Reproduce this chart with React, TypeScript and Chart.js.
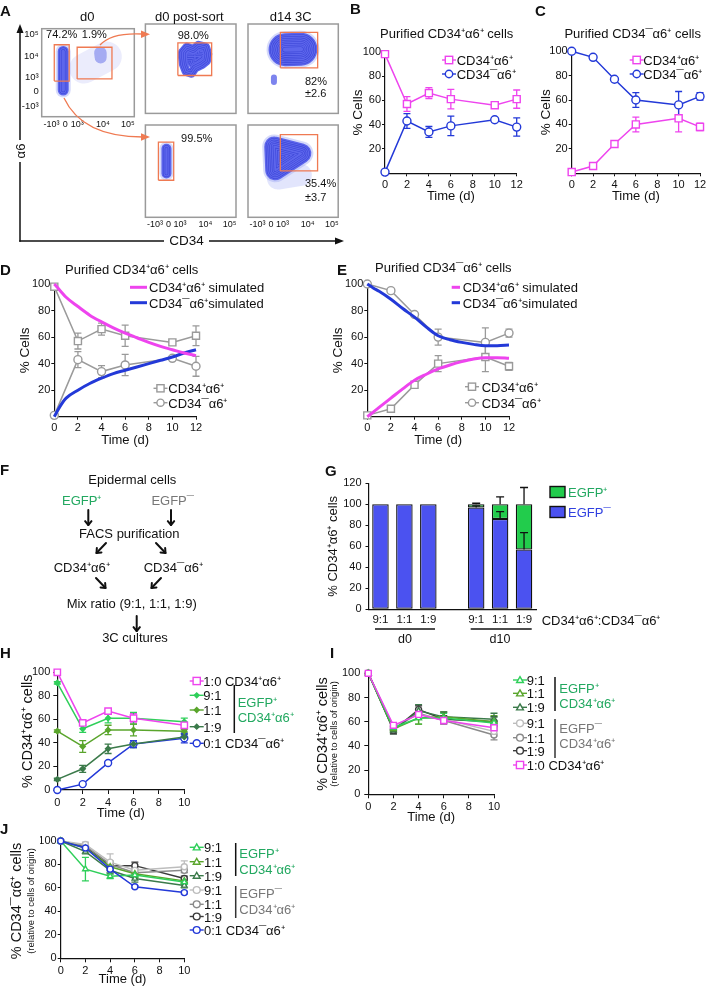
import React, { useEffect, useRef } from 'react';
import { Chart, registerables } from 'chart.js';

Chart.register(...registerables);

const FONT = '"Liberation Sans", Arial, Helvetica, sans-serif';
Chart.defaults.font.family = FONT;
Chart.defaults.color = '#111';

// ---------------- colours ----------------
const MAG = '#ee44ee';
const BLUE = '#2339d8';
const GRAY = '#9a9a9a';
const G_BRIGHT = '#2fcf5a';
const G_MID = '#5aa52c';
const G_DARK = '#3b7a4a';
const GR_L = '#bdbdbd';
const GR_M = '#8a8a8a';
const GR_D = '#3a3a3a';
const ORANGE = '#ef7a52';
const FLOW_BODY = '#5d66ec';
const FLOW_RING = '#3a44d6';
const BAR_BLUE = '#4b52f0';
const BAR_GREEN = '#22cc4c';
const TXT_GREEN = '#22a860';

// ---------------- data: B / D (purified CD34+ a6+) ----------------
const daysBC = [0, 2, 4, 6, 10, 12];
const bPlus = [98, 57, 66, 61, 56, 61];
const bPlusErr = [0, 6, 4.5, 8, 1.5, 7.5];
const bMinus = [1, 43, 34, 39, 44, 38];
const bMinusErr = [0, 6, 4.5, 8, 1.5, 7.5];

// ---------------- data: C / E (purified CD34- a6+) ----------------
const cPlus = [1, 6, 24, 40, 45, 38];
const cPlusErr = [0, 0, 1, 6, 11, 3];
const cMinus = [100, 95, 77, 60, 56, 63];
const cMinusErr = [0, 0, 1, 6, 11, 3];

// ---------------- simulated curves ----------------
const simDays = [0, 0.5, 1, 2, 3, 4, 5, 6, 7, 8, 9, 10, 11, 12];
const dSimPlus = [100, 95, 90, 83, 76.5, 71.5, 67, 63, 59.5, 56, 53, 50.5, 48, 46];
const dSimMinus = [0, 8, 14, 20, 25, 29, 32.5, 35, 37.5, 40, 42.5, 45, 48, 50.5];
const eSimMinus = [100, 97, 94.5, 88.5, 81.5, 75, 67.5, 61, 58, 56, 54.5, 53.5, 53.5, 54];
const eSimPlus = [0, 3.5, 7, 14, 21, 27.5, 32, 36, 39, 41.5, 43.5, 44.5, 44.5, 44];

// ---------------- data: G ----------------
const gCats = ['9:1', '1:1', '1:9', '', '9:1', '1:1', '1:9'];
const gMinus = [100, 100, 100, null, 97, 86, 57];
const gPlus = [null, null, null, null, 3, 14, 43];
const gMinusErr = [0, 0, 0, 0, 1.5, 7, 16];
const gPlusErr = [0, 0, 0, 0, 1, 7, 16];

// ---------------- data: H ----------------
const daysHIJ = [0, 2, 4, 6, 10];
const h10 = [100, 57, 67, 61, 55];
const h10Err = [1, 1.5, 1.5, 4, 2];
const h91 = [91, 52, 61, 61, 58];
const h91Err = [1, 3, 4, 5, 3];
const h11 = [50, 37, 51, 51, 50];
const h11Err = [1, 5, 4, 5, 1.5];
const h19 = [9, 18, 35, 39, 45];
const h19Err = [1, 3, 4, 3, 2];
const h01 = [0, 5, 23, 39, 44];
const h01Err = [0, 0.5, 0.5, 3, 4];

// ---------------- data: I ----------------
const i91p = [100, 55, 63, 63, 59];
const i11p = [100, 54, 63, 64, 60];
const i19p = [100, 53, 69, 64, 62];
const i91m = [100, 56, 66, 62, 52];
const i11m = [100, 54, 67, 61, 49];
const i19m = [100, 53, 70, 62, 60];
const i10 = [100, 57, 66, 61, 55];
const i10Err = [0, 2, 2, 3, 2];
const iErrP = [0, 3, 5, 4, 5];
const iErrM = [0, 3, 3, 3, 4];

// ---------------- data: J ----------------
const j91p = [100, 76, 70, 71, 65];
const j11p = [100, 94, 78, 72, 66];
const j19p = [100, 91, 75, 68, 62];
const j91m = [100, 97, 82, 75, 78];
const j11m = [100, 96, 80, 73, 75];
const j19m = [100, 95, 79, 79, 68];
const j01 = [100, 94, 76, 61, 56];
const j01Err = [0, 1, 1, 1, 1];
const j91pErr = [0, 10, 2, 2, 2];
const jErr = [0, 2, 3, 3, 2];
const j91mErr = [0, 2, 7, 3, 5];

// ---------------- flow cytometry (channel scale 0-1024) ----------------
const flowTickLabels = ['-10³', '0', '10³', '10⁴', '10⁵'];
const flowXTicks = [108, 260, 392, 678, 953];
const flowYTicks = [118, 294, 459, 698, 955];
const d0Main = [[238, 310], [238, 760]];
const d0Right = [[646, 745], [652, 690]];
const d0RightHaze = [[470, 560], [720, 700]];
const psTopPop = [[420, 700], [470, 760], [540, 730], [600, 780], [680, 760], [705, 680], [690, 600], [640, 560], [560, 520], [520, 460], [460, 480], [430, 560], [420, 640], [420, 700]];
const psTopCore = [[480, 650], [630, 650], [560, 600], [560, 700]];
const d14TopPop = [[420, 730], [600, 735]];
const d14TopSmall = [[294, 360], [294, 410]];
const psBotPop = [[238, 485], [238, 760]];
const d14BotPop = [[298, 786], [606, 709], [309, 521], [298, 786]];
const d14BotHaze = [[340, 430], [600, 470]];
const d0GateA = [139, 304, 415, 837];
const d0GateB = [392, 777, 440, 808];
const psTopGate = [367, 749, 434, 808];
const d14TopGate = [367, 790, 522, 929];
const psBotGate = [147, 320, 411, 833];
const d14BotGate = [367, 790, 514, 918];

// ---------------- plugins ----------------
function drawErr(chart: any, after: boolean) {
  const ctx = chart.ctx;
  chart.data.datasets.forEach((ds: any, i: number) => {
    if (!ds.errors || !!ds.errAfter !== after) return;
    const meta = chart.getDatasetMeta(i);
    const ys = chart.scales[meta.yAxisID];
    const p0 = ys.getPixelForValue(0);
    ctx.save();
    ctx.strokeStyle = ds.errColor || ds.borderColor;
    ctx.lineWidth = ds.errWidth || 1.3;
    meta.data.forEach((el: any, j: number) => {
      const e = ds.errors[j];
      if (!e || el.skip || el.y == null || isNaN(el.y)) return;
      const d = Math.abs(p0 - ys.getPixelForValue(e));
      const x = el.x;
      const y = el.y;
      const top = y - d;
      const bot = ds.errMode === 'up' ? y : y + d;
      const c = (ds.errCap || 7) / 2;
      ctx.beginPath();
      ctx.moveTo(x, top);
      ctx.lineTo(x, bot);
      ctx.moveTo(x - c, top);
      ctx.lineTo(x + c, top);
      if (ds.errMode !== 'up') {
        ctx.moveTo(x - c, bot);
        ctx.lineTo(x + c, bot);
      }
      ctx.stroke();
    });
    ctx.restore();
  });
}
const errorBars = {
  id: 'errorBars',
  beforeDatasetsDraw(chart: any) { drawErr(chart, false); },
  afterDatasetsDraw(chart: any) { drawErr(chart, true); },
};
const boxBorder = {
  id: 'boxBorder',
  afterDatasetsDraw(chart: any, _a: any, opts: any) {
    if (!opts || !opts.color) return;
    const { left, top, right, bottom } = chart.chartArea;
    const ctx = chart.ctx;
    ctx.save();
    ctx.strokeStyle = opts.color;
    ctx.lineWidth = opts.width || 1.5;
    ctx.strokeRect(left, top, right - left, bottom - top);
    ctx.restore();
  },
};
Chart.register(errorBars, boxBorder);

// ---------------- helpers ----------------
type Rect = { L: number; T: number; W: number; H: number };
type Area = { x0: number; x1: number; y0: number; y1: number };

function CanvasChart({ rect, make }: { rect: Rect; make: () => any }) {
  const ref = useRef<HTMLCanvasElement>(null);
  useEffect(() => {
    const ch = new Chart(ref.current as HTMLCanvasElement, make());
    return () => ch.destroy();
  }, []);
  return (
    <canvas
      ref={ref}
      width={rect.W}
      height={rect.H}
      style={{ position: 'absolute', left: rect.L, top: rect.T, width: rect.W, height: rect.H, display: 'block' }}
    />
  );
}

function ser(days: number[], vals: number[], o: any) {
  return {
    data: days.map((d, i) => ({ x: d, y: vals[i] })),
    borderColor: o.color,
    borderWidth: o.w ?? 1.5,
    pointStyle: o.marker || 'circle',
    pointRadius: o.r ?? 3.5,
    pointBorderWidth: o.pbw ?? 1.4,
    pointBorderColor: o.color,
    pointBackgroundColor: o.fill ?? '#fff',
    tension: o.smooth ? 0.4 : 0,
    cubicInterpolationMode: o.smooth ? 'monotone' : 'default',
    clip: false,
    fill: false,
    errors: o.err,
    errColor: o.color,
    errCap: o.cap ?? 7,
    order: o.order ?? 0,
  };
}

function baseOpts(rect: Rect, a: Area) {
  return {
    responsive: false,
    animation: false,
    devicePixelRatio: 1,
    events: [],
    layout: { padding: { left: 0, top: a.y0 - rect.T, right: rect.L + rect.W - a.x1, bottom: 0 } },
    plugins: { legend: { display: false }, tooltip: { enabled: false } },
  };
}

function yAxis(rect: Rect, a: Area, o: any) {
  const lh = (o.titleSize || 13) * 1.2;
  return {
    type: 'linear',
    min: 0,
    max: o.max,
    stacked: !!o.stacked,
    afterFit: (s: any) => { s.width = a.x0 - rect.L; },
    ticks: {
      stepSize: o.step,
      font: { size: o.tick || 11 },
      color: '#111',
      padding: o.pad ?? 1,
      callback: (v: any) => (o.hideZero && v === 0 ? '' : String(v)),
    },
    grid: { display: true, drawOnChartArea: false, drawTicks: true, tickLength: o.tl ?? 3, tickColor: '#111', tickWidth: 1 },
    border: { display: true, color: '#111', width: 1.2 },
    title: o.title
      ? { display: true, text: o.title, font: { size: o.titleSize || 13 }, color: '#111', padding: { top: o.titleX - rect.L - lh / 2, bottom: 0 } }
      : { display: false },
  };
}

function xLinear(rect: Rect, a: Area, o: any) {
  const lh = 13 * 1.2;
  return {
    type: 'linear',
    min: 0,
    max: o.max,
    afterFit: (s: any) => { s.height = rect.T + rect.H - a.y1; },
    ticks: { stepSize: 2, font: { size: o.tick || 11 }, color: '#111', padding: o.pad ?? 2, maxRotation: 0, autoSkip: false },
    grid: { display: true, drawOnChartArea: false, drawTicks: true, tickLength: o.tl ?? 3, tickColor: '#111', tickWidth: 1 },
    border: { display: true, color: '#111', width: 1.2 },
    title: { display: true, text: 'Time (d)', font: { size: 13 }, color: '#111', padding: { top: 0, bottom: rect.T + rect.H - o.titleY - lh / 2 } },
  };
}

function lineCfg(rect: Rect, a: Area, datasets: any[], xo: any, yo: any) {
  return {
    type: 'line',
    data: { datasets },
    options: {
      ...baseOpts(rect, a),
      scales: { x: xLinear(rect, a, xo), y: yAxis(rect, a, yo) },
    },
  };
}

function contour(pts: number[][], w: number, halo = true) {
  const L: any[] = [];
  if (halo) L.push({ pts, w: w + 4, color: 'rgba(165,172,245,0.45)' });
  L.push({ pts, w, color: FLOW_BODY });
  for (let k = w - 3; k > 2; k -= 3.5) {
    L.push({ pts, w: k, color: FLOW_RING });
    L.push({ pts, w: k - 1.1, color: FLOW_BODY });
  }
  return L;
}

function flowCfg(rect: Rect, box: Area, layers: any[], gates: number[][], showX: boolean, showY: boolean) {
  const datasets: any[] = [];
  gates.forEach((g) =>
    datasets.push({
      data: [[g[0], g[2]], [g[1], g[2]], [g[1], g[3]], [g[0], g[3]], [g[0], g[2]]].map(([x, y]) => ({ x, y })),
      borderColor: ORANGE,
      borderWidth: 1.3,
      pointRadius: 0,
      fill: false,
      order: 0,
      borderJoinStyle: 'miter',
      clip: false,
    })
  );
  layers.forEach((l, i) =>
    datasets.push({
      data: l.pts.map(([x, y]: number[]) => ({ x, y })),
      borderColor: l.color,
      borderWidth: l.w,
      borderCapStyle: 'round',
      borderJoinStyle: 'round',
      pointRadius: 0,
      fill: false,
      order: 1000 - i,
      clip: 0,
      tension: 0,
    })
  );
  return {
    type: 'line',
    data: { datasets },
    options: {
      responsive: false,
      animation: false,
      devicePixelRatio: 1,
      events: [],
      layout: {
        padding: {
          left: showY ? 0 : box.x0 - rect.L,
          top: box.y0 - rect.T,
          right: rect.L + rect.W - box.x1,
          bottom: showX ? 0 : rect.T + rect.H - box.y1,
        },
      },
      plugins: { legend: { display: false }, tooltip: { enabled: false }, boxBorder: { color: '#9a9a9a', width: 1.5 } },
      scales: {
        x: {
          type: 'linear', min: 0, max: 1024, display: showX,
          afterFit: (s: any) => { s.height = rect.T + rect.H - box.y1; },
          afterBuildTicks: (s: any) => { s.ticks = flowXTicks.map((v) => ({ value: v })); },
          ticks: { callback: (_v: any, i: number) => flowTickLabels[i], font: { size: 9 }, color: '#111', padding: 2, maxRotation: 0, autoSkip: false },
          grid: { display: false, drawTicks: false },
          border: { display: false },
        },
        y: {
          type: 'linear', min: 0, max: 1024, display: showY,
          afterFit: (s: any) => { s.width = box.x0 - rect.L; },
          afterBuildTicks: (s: any) => { s.ticks = flowYTicks.map((v) => ({ value: v })); },
          ticks: { callback: (_v: any, i: number) => flowTickLabels[i], font: { size: 9.5 }, color: '#111', padding: 3, autoSkip: false },
          grid: { display: false, drawTicks: false },
          border: { display: false },
        },
      },
    },
  };
}

// ---------------- chart definitions ----------------
const charts: { rect: Rect; make: () => any }[] = [];

// Panel A flow plots
{
  const r = { L: 10, T: 20, W: 128, H: 112 };
  const b = { x0: 41.7, x1: 134.3, y0: 24, y1: 116.7 };
  const layers = [
    { pts: d0RightHaze, w: 30, color: 'rgba(175,180,245,0.25)' },
    { pts: d0Right, w: 12, color: '#a5abf2' },
    ...contour(d0Main, 11),
  ];
  charts.push({ rect: r, make: () => flowCfg(r, b, layers, [d0GateA, d0GateB], true, true) });
}
{
  const r = { L: 140, T: 21, W: 99, H: 99 };
  const b = { x0: 142.7, x1: 236, y0: 24, y1: 116.7 };
  const layers = [...contour(psTopCore, 16, false), ...contour(psTopPop, 9, false)];
  charts.push({ rect: r, make: () => flowCfg(r, b, layers, [psTopGate], false, false) });
}
{
  const r = { L: 242, T: 21, W: 99, H: 99 };
  const b = { x0: 245, x1: 338.3, y0: 24, y1: 116.7 };
  const layers = [{ pts: d14TopSmall, w: 6, color: '#7d84ee' }, ...contour(d14TopPop, 33)];
  charts.push({ rect: r, make: () => flowCfg(r, b, layers, [d14TopGate], false, false) });
}
{
  const r = { L: 140, T: 122, W: 99, H: 112 };
  const b = { x0: 142.7, x1: 236, y0: 125, y1: 217.3 };
  const layers = [...contour(psBotPop, 10)];
  charts.push({ rect: r, make: () => flowCfg(r, b, layers, [psBotGate], true, false) });
}
{
  const r = { L: 242, T: 122, W: 99, H: 112 };
  const b = { x0: 245, x1: 338.3, y0: 125, y1: 217.3 };
  const layers = [{ pts: d14BotHaze, w: 22, color: 'rgba(160,168,245,0.3)' }, ...contour(d14BotPop, 20)];
  charts.push({ rect: r, make: () => flowCfg(r, b, layers, [d14BotGate], true, false) });
}

// Panel B
{
  const r = { L: 350, T: 40, W: 178, H: 165 };
  const a = { x0: 385, x1: 516.7, y0: 51.7, y1: 173.3 };
  charts.push({
    rect: r,
    make: () =>
      lineCfg(r, a, [
        ser(daysBC, bPlus, { color: MAG, marker: 'rect', r: 5, err: bPlusErr }),
        ser(daysBC, bMinus, { color: BLUE, marker: 'circle', r: 4, err: bMinusErr }),
      ], { max: 12, titleY: 196.7 }, { max: 100, step: 20, hideZero: true, title: '% Cells', titleX: 358.3, titleSize: 13.5 }),
  });
}
// Panel C
{
  const r = { L: 537, T: 40, W: 172, H: 165 };
  const a = { x0: 571.7, x1: 700, y0: 51.2, y1: 173.3 };
  charts.push({
    rect: r,
    make: () =>
      lineCfg(r, a, [
        ser(daysBC, cPlus, { color: MAG, marker: 'rect', r: 5, err: cPlusErr }),
        ser(daysBC, cMinus, { color: BLUE, marker: 'circle', r: 4, err: cMinusErr }),
      ], { max: 12, titleY: 196.7 }, { max: 100, step: 20, hideZero: true, title: '% Cells', titleX: 546.7, titleSize: 13.5 }),
  });
}
// Panel D
{
  const r = { L: 12, T: 275, W: 198, H: 175 };
  const a = { x0: 54.3, x1: 196, y0: 284, y1: 416.7 };
  charts.push({
    rect: r,
    make: () =>
      lineCfg(r, a, [
        ser(simDays, dSimPlus, { color: MAG, r: 0, w: 3, smooth: true }),
        ser(simDays, dSimMinus, { color: BLUE, r: 0, w: 3, smooth: true }),
        ser(daysBC, bPlus, { color: GRAY, marker: 'rect', r: 5, err: bPlusErr }),
        ser(daysBC, bMinus, { color: GRAY, marker: 'circle', r: 4, err: bMinusErr }),
      ], { max: 12, titleY: 440.7 }, { max: 100, step: 20, hideZero: true, title: '% Cells', titleX: 25, titleSize: 13.5 }),
  });
}
// Panel E
{
  const r = { L: 326, T: 275, W: 198, H: 175 };
  const a = { x0: 367.3, x1: 509, y0: 284, y1: 416.7 };
  charts.push({
    rect: r,
    make: () =>
      lineCfg(r, a, [
        ser(simDays, eSimPlus, { color: MAG, r: 0, w: 3, smooth: true }),
        ser(simDays, eSimMinus, { color: BLUE, r: 0, w: 3, smooth: true }),
        ser(daysBC, cPlus, { color: GRAY, marker: 'rect', r: 5, err: cPlusErr }),
        ser(daysBC, cMinus, { color: GRAY, marker: 'circle', r: 4, err: cMinusErr }),
      ], { max: 12, titleY: 440.7 }, { max: 100, step: 20, hideZero: true, title: '% Cells', titleX: 338.3, titleSize: 13.5 }),
  });
}
// Panel G
{
  const r = { L: 322, T: 472, W: 226, H: 160 };
  const a = { x0: 368.5, x1: 536, y0: 483.3, y1: 609.3 };
  charts.push({
    rect: r,
    make: () => ({
      type: 'bar',
      data: {
        labels: gCats,
        datasets: [
          { data: gMinus, backgroundColor: BAR_BLUE, borderColor: '#111', borderWidth: 1.3, borderSkipped: false, errors: gMinusErr, errMode: 'up', errColor: '#111', errCap: 8, errAfter: true },
          { data: gPlus, backgroundColor: BAR_GREEN, borderColor: '#111', borderWidth: 1.3, borderSkipped: false, errors: gPlusErr, errMode: 'up', errColor: '#111', errCap: 8, errAfter: true },
        ],
      },
      options: {
        ...baseOpts(r, a),
        datasets: { bar: { categoryPercentage: 1, barPercentage: 0.69 } },
        scales: {
          x: {
            stacked: true,
            afterFit: (s: any) => { s.height = r.T + r.H - a.y1; },
            ticks: { font: { size: 11.5 }, color: '#111', padding: 4, maxRotation: 0, autoSkip: false },
            grid: { display: false, drawTicks: false },
            border: { display: true, color: '#111', width: 1.2 },
          },
          y: yAxis(r, a, { max: 120, step: 20, stacked: true, pad: 4, title: '% CD34⁺α6⁺ cells', titleX: 333, titleSize: 13 }),
        },
      },
    }),
  });
}
// Panel H
{
  const r = { L: 15, T: 660, W: 182, H: 165 };
  const a = { x0: 57.3, x1: 184.3, y0: 672.3, y1: 790 };
  charts.push({
    rect: r,
    make: () =>
      lineCfg(r, a, [
        ser(daysHIJ, h10, { color: MAG, marker: 'rect', r: 4.5, err: h10Err }),
        ser(daysHIJ, h91, { color: G_BRIGHT, marker: 'rectRot', r: 2.6, fill: G_BRIGHT, err: h91Err }),
        ser(daysHIJ, h11, { color: G_MID, marker: 'rectRot', r: 2.6, fill: G_MID, err: h11Err }),
        ser(daysHIJ, h19, { color: G_DARK, marker: 'rectRot', r: 2.6, fill: G_DARK, err: h19Err }),
        ser(daysHIJ, h01, { color: BLUE, marker: 'circle', r: 3.5, err: h01Err }),
      ], { max: 10, titleY: 813.3, tl: 4, pad: 2 }, { max: 100, step: 20, tl: 4, pad: 3, title: '% CD34⁺α6⁺ cells', titleX: 28.3, titleSize: 14.5 }),
  });
}
// Panel I
{
  const r = { L: 340, T: 660, W: 165, H: 170 };
  const a = { x0: 368.3, x1: 494, y0: 673.3, y1: 794.3 };
  charts.push({
    rect: r,
    make: () =>
      lineCfg(r, a, [
        ser(daysHIJ, i10, { color: MAG, marker: 'rect', r: 4.2, err: i10Err }),
        ser(daysHIJ, i91p, { color: G_BRIGHT, marker: 'triangle', r: 3.2, err: iErrP }),
        ser(daysHIJ, i11p, { color: G_MID, marker: 'triangle', r: 3.2, err: iErrP }),
        ser(daysHIJ, i19p, { color: G_DARK, marker: 'triangle', r: 3.2, err: iErrP }),
        ser(daysHIJ, i91m, { color: GR_L, marker: 'circle', r: 3, err: iErrM }),
        ser(daysHIJ, i11m, { color: GR_M, marker: 'circle', r: 3, err: iErrM }),
        ser(daysHIJ, i19m, { color: GR_D, marker: 'circle', r: 3, err: iErrM }),
      ], { max: 10, titleY: 817.5, tl: 4, pad: 2 }, { max: 100, step: 20, tl: 4, pad: 4 }),
  });
}
// Panel J
{
  const r = { L: 40, T: 830, W: 155, H: 158 };
  const a = { x0: 60.7, x1: 184.3, y0: 841, y1: 958.3 };
  charts.push({
    rect: r,
    make: () =>
      lineCfg(r, a, [
        ser(daysHIJ, j01, { color: BLUE, marker: 'circle', r: 3, err: j01Err }),
        ser(daysHIJ, j91p, { color: G_BRIGHT, marker: 'triangle', r: 3.2, err: j91pErr }),
        ser(daysHIJ, j11p, { color: G_MID, marker: 'triangle', r: 3.2, err: jErr }),
        ser(daysHIJ, j19p, { color: G_DARK, marker: 'triangle', r: 3.2, err: jErr }),
        ser(daysHIJ, j91m, { color: GR_L, marker: 'circle', r: 3, err: j91mErr }),
        ser(daysHIJ, j11m, { color: GR_M, marker: 'circle', r: 3, err: jErr }),
        ser(daysHIJ, j19m, { color: GR_D, marker: 'circle', r: 3, err: jErr }),
      ], { max: 10, titleY: 979.3, tl: 4, pad: 2 }, { max: 100, step: 20, tl: 3, pad: 1 }),
  });
}

// ---------------- HTML text ----------------
function Tx({ x, y, s = 13, c = '#111', a = 'c', b = false, r = false, children }: any) {
  const tx = a === 'c' ? '-50%' : a === 'r' ? '-100%' : '0';
  return (
    <div
      style={{
        position: 'absolute', left: x, top: y, fontSize: s, color: c, fontWeight: b ? 700 : 400,
        whiteSpace: 'nowrap', lineHeight: 1, transform: `translate(${tx}, -50%)${r ? ' rotate(-90deg)' : ''}`,
      }}
    >
      {children}
    </div>
  );
}

function Mark({ x, y, color, shape, half = 7, r = 3.5, fill = '#fff', lw = 1.4 }: any) {
  const els: any[] = [];
  if (half > 0) els.push(<line key="l" x1={x - half} y1={y} x2={x + half} y2={y} stroke={color} strokeWidth={lw} />);
  if (shape === 'rect') els.push(<rect key="m" x={x - r} y={y - r} width={2 * r} height={2 * r} fill={fill} stroke={color} strokeWidth={lw} />);
  if (shape === 'circle') els.push(<circle key="m" cx={x} cy={y} r={r} fill={fill} stroke={color} strokeWidth={lw} />);
  if (shape === 'tri') els.push(<polygon key="m" points={`${x},${y - r} ${x + r},${y + r * 0.75} ${x - r},${y + r * 0.75}`} fill={fill} stroke={color} strokeWidth={lw} />);
  if (shape === 'dia') els.push(<polygon key="m" points={`${x},${y - r} ${x + r},${y} ${x},${y + r} ${x - r},${y}`} fill={color} stroke={color} strokeWidth={lw} />);
  return <g>{els}</g>;
}

function Arrow({ x1, y1, x2, y2, c = '#111', w = 2, h = 5 }: any) {
  const ang = Math.atan2(y2 - y1, x2 - x1);
  const a1 = ang + Math.PI * 0.78;
  const a2 = ang - Math.PI * 0.78;
  return (
    <g stroke={c} strokeWidth={w} fill="none" strokeLinecap="round" strokeLinejoin="round">
      <line x1={x1} y1={y1} x2={x2} y2={y2} />
      <polyline points={`${x2 + h * Math.cos(a1)},${y2 + h * Math.sin(a1)} ${x2},${y2} ${x2 + h * Math.cos(a2)},${y2 + h * Math.sin(a2)}`} />
    </g>
  );
}

const P = 'CD34⁺α6⁺';
const M = 'CD34¯α6⁺';

export default function App() {
  return (
    <div style={{ position: 'absolute', left: 0, top: 0, width: 709, height: 988, background: '#fff', fontFamily: FONT, color: '#111', overflow: 'hidden' }}>
      {charts.map((c, i) => (
        <CanvasChart key={i} rect={c.rect} make={c.make} />
      ))}

      <svg width={709} height={988} style={{ position: 'absolute', left: 0, top: 0, pointerEvents: 'none' }}>
        {/* Panel A axes */}
        <g stroke="#111" strokeWidth={1.5}>
          <line x1={20} y1={31} x2={20} y2={140} />
          <line x1={20} y1={162} x2={20} y2={241.7} />
          <line x1={19.3} y1={241} x2={164} y2={241} />
          <line x1={209} y1={241} x2={336} y2={241} />
        </g>
        <polygon points="20,24 16.5,33 23.5,33" fill="#111" />
        <polygon points="344,241 335,237.5 335,244.5" fill="#111" />
        {/* Orange sort arrows */}
        <path d="M100,45 C108,36 125,33 143,34" stroke={ORANGE} strokeWidth={1.3} fill="none" />
        <polygon points="150,34.3 141,30.5 141,38" fill={ORANGE} />
        <path d="M64,98 C78,128 110,137 143,137" stroke={ORANGE} strokeWidth={1.3} fill="none" />
        <polygon points="150,137 141,133.3 141,140.7" fill={ORANGE} />

        {/* Legend markers B, C */}
        <Mark x={449} y={60} color={MAG} shape="rect" r={3.7} />
        <Mark x={449} y={74} color={BLUE} shape="circle" r={3.7} />
        <Mark x={636.7} y={60} color={MAG} shape="rect" r={3.7} />
        <Mark x={636.7} y={74} color={BLUE} shape="circle" r={3.7} />
        {/* D, E legends */}
        <line x1={130} y1={287.3} x2={147} y2={287.3} stroke={MAG} strokeWidth={3} />
        <line x1={130} y1={302.7} x2={147} y2={302.7} stroke={BLUE} strokeWidth={3} />
        <Mark x={160.5} y={388.3} color={GRAY} shape="rect" r={3.6} />
        <Mark x={160.5} y={402.7} color={GRAY} shape="circle" r={3.6} />
        <line x1={451.7} y1={287.3} x2={460} y2={287.3} stroke={MAG} strokeWidth={3} />
        <line x1={451.7} y1={302.7} x2={460} y2={302.7} stroke={BLUE} strokeWidth={3} />
        <Mark x={472} y={386.7} color={GRAY} shape="rect" r={3.6} />
        <Mark x={472} y={402.7} color={GRAY} shape="circle" r={3.6} />

        {/* F arrows */}
        <Arrow x1={88.3} y1={510} x2={88.3} y2={525} />
        <Arrow x1={171} y1={510} x2={171} y2={525} />
        <Arrow x1={106} y1={543} x2={96.5} y2={553} />
        <Arrow x1={156} y1={543} x2={165.5} y2={553} />
        <Arrow x1={96} y1={578} x2={105.5} y2={588} />
        <Arrow x1={161} y1={578} x2={151.5} y2={588} />
        <Arrow x1={136.7} y1={616} x2={136.7} y2={631} />

        {/* G legend boxes and group lines */}
        <rect x={550} y={486.5} width={15} height={11} fill={BAR_GREEN} stroke="#111" strokeWidth={1.4} />
        <rect x={550} y={506.5} width={15} height={11} fill={BAR_BLUE} stroke="#111" strokeWidth={1.4} />
        <line x1={375} y1={629} x2={435} y2={629} stroke="#111" strokeWidth={1.5} />
        <line x1={470.7} y1={629} x2={531.7} y2={629} stroke="#111" strokeWidth={1.5} />

        {/* H legend */}
        <Mark x={196.7} y={681} color={MAG} shape="rect" r={3.6} />
        <Mark x={196.7} y={695.3} color={G_BRIGHT} shape="dia" r={2.4} />
        <Mark x={196.7} y={710} color={G_MID} shape="dia" r={2.4} />
        <Mark x={196.7} y={726.7} color={G_DARK} shape="dia" r={2.4} />
        <Mark x={196.7} y={743.3} color={BLUE} shape="circle" r={3.5} />
        <line x1={234.3} y1={685} x2={234.3} y2={733} stroke="#111" strokeWidth={1.5} />

        {/* I legend */}
        <Mark x={520} y={680} color={G_BRIGHT} shape="tri" r={3.4} />
        <Mark x={520} y={693.3} color={G_MID} shape="tri" r={3.4} />
        <Mark x={520} y={707.3} color={G_DARK} shape="tri" r={3.4} />
        <Mark x={520} y={723.3} color={GR_L} shape="circle" r={3.4} />
        <Mark x={520} y={737.7} color={GR_M} shape="circle" r={3.4} />
        <Mark x={520} y={750.7} color={GR_D} shape="circle" r={3.4} />
        <Mark x={520} y={765} color={MAG} shape="rect" r={3.6} />
        <line x1={555} y1={677} x2={555} y2={711} stroke="#111" strokeWidth={1.5} />
        <line x1={555} y1={719} x2={555} y2={758} stroke="#333" strokeWidth={1.5} />

        {/* J legend */}
        <Mark x={196.7} y={847.3} color={G_BRIGHT} shape="tri" r={3.4} />
        <Mark x={196.7} y={861.7} color={G_MID} shape="tri" r={3.4} />
        <Mark x={196.7} y={875.7} color={G_DARK} shape="tri" r={3.4} />
        <Mark x={196.7} y={890} color={GR_L} shape="circle" r={3.4} />
        <Mark x={196.7} y={904.3} color={GR_M} shape="circle" r={3.4} />
        <Mark x={196.7} y={916.5} color={GR_D} shape="circle" r={3.4} />
        <Mark x={196.7} y={930} color={BLUE} shape="circle" r={3.4} />
        <line x1={235.7} y1={843} x2={235.7} y2={876} stroke="#111" strokeWidth={1.5} />
        <line x1={235.7} y1={886} x2={235.7} y2={918} stroke="#333" strokeWidth={1.5} />
      </svg>

      {/* panel letters */}
      <Tx x={0} y={10} s={15} b a="l">A</Tx>
      <Tx x={350} y={8} s={15} b a="l">B</Tx>
      <Tx x={535} y={10} s={15} b a="l">C</Tx>
      <Tx x={0} y={269} s={15} b a="l">D</Tx>
      <Tx x={337} y={269} s={15} b a="l">E</Tx>
      <Tx x={0} y={469} s={15} b a="l">F</Tx>
      <Tx x={325} y={470} s={15} b a="l">G</Tx>
      <Tx x={0} y={652} s={15} b a="l">H</Tx>
      <Tx x={330} y={652} s={15} b a="l">I</Tx>
      <Tx x={0} y={828} s={15} b a="l">J</Tx>

      {/* Panel A texts */}
      <Tx x={87.3} y={16}>d0</Tx>
      <Tx x={189.3} y={16}>d0 post-sort</Tx>
      <Tx x={290.7} y={16}>d14 3C</Tx>
      <Tx x={61.7} y={34} s={11}>74.2%</Tx>
      <Tx x={94.3} y={34} s={11}>1.9%</Tx>
      <Tx x={193.3} y={35} s={11}>98.0%</Tx>
      <Tx x={305} y={81} s={11} a="l">82%</Tx>
      <Tx x={305} y={93.3} s={11} a="l">±2.6</Tx>
      <Tx x={196.7} y={138.3} s={11}>99.5%</Tx>
      <Tx x={305} y={183.3} s={11} a="l">35.4%</Tx>
      <Tx x={305} y={196.7} s={11} a="l">±3.7</Tx>
      <Tx x={20} y={151} s={13} r>α6</Tx>
      <Tx x={186.5} y={241} s={13.5}>CD34</Tx>

      {/* B, C */}
      <Tx x={446.7} y={32.7}>Purified {P} cells</Tx>
      <Tx x={456.7} y={60} a="l">{P}</Tx>
      <Tx x={456.7} y={74} a="l">{M}</Tx>
      <Tx x={632.7} y={32.7}>Purified {M} cells</Tx>
      <Tx x={643.3} y={60} a="l">{P}</Tx>
      <Tx x={643.3} y={74} a="l">{M}</Tx>

      {/* D, E */}
      <Tx x={131.7} y={269.3}>Purified {P} cells</Tx>
      <Tx x={149} y={287.3} a="l">{P} simulated</Tx>
      <Tx x={149} y={302.7} a="l">{M}simulated</Tx>
      <Tx x={168.3} y={388.3} a="l">{P}</Tx>
      <Tx x={168.3} y={402.7} a="l">{M}</Tx>
      <Tx x={443.3} y={267.3}>Purified {M} cells</Tx>
      <Tx x={462.7} y={287.3} a="l">{P} simulated</Tx>
      <Tx x={462.7} y={302.7} a="l">{M}simulated</Tx>
      <Tx x={481.7} y={386.7} a="l">{P}</Tx>
      <Tx x={481.7} y={402.7} a="l">{M}</Tx>

      {/* F */}
      <Tx x={132.3} y={479.3}>Epidermal cells</Tx>
      <Tx x={81.7} y={500} c={TXT_GREEN}>EGFP⁺</Tx>
      <Tx x={172.7} y={500} c="#777">EGFP¯</Tx>
      <Tx x={129.3} y={533.3}>FACS purification</Tx>
      <Tx x={81.7} y={566.7}>{P}</Tx>
      <Tx x={173.3} y={566.7}>{M}</Tx>
      <Tx x={131.7} y={603.3}>Mix ratio (9:1, 1:1, 1:9)</Tx>
      <Tx x={135} y={637}>3C cultures</Tx>

      {/* G */}
      <Tx x={568} y={492} a="l" c={TXT_GREEN}>EGFP⁺</Tx>
      <Tx x={568} y={512} a="l" c="#3040e0">EGFP¯</Tx>
      <Tx x={541.7} y={620} a="l">{P}:{M}</Tx>
      <Tx x={405} y={638.5} s={12.5}>d0</Tx>
      <Tx x={500} y={638.5} s={12.5}>d10</Tx>

      {/* H legend */}
      <Tx x={203.3} y={681} a="l">1:0 {P}</Tx>
      <Tx x={203.3} y={695.3} a="l">9:1</Tx>
      <Tx x={203.3} y={710} a="l">1:1</Tx>
      <Tx x={203.3} y={726.7} a="l">1:9</Tx>
      <Tx x={203.3} y={743.3} a="l">0:1 {M}</Tx>
      <Tx x={237.7} y={701.7} a="l" c={TXT_GREEN}>EGFP⁺</Tx>
      <Tx x={237.7} y={717.3} a="l" c={TXT_GREEN}>{P}</Tx>

      {/* I */}
      <Tx x={321.7} y={734} s={14.5} r>% {P} cells</Tx>
      <Tx x={333.5} y={734} s={9.5} r>(relative to cells of origin)</Tx>
      <Tx x={526.7} y={680} a="l">9:1</Tx>
      <Tx x={526.7} y={693.3} a="l">1:1</Tx>
      <Tx x={526.7} y={707.3} a="l">1:9</Tx>
      <Tx x={526.7} y={723.3} a="l">9:1</Tx>
      <Tx x={526.7} y={737.7} a="l">1:1</Tx>
      <Tx x={526.7} y={750.7} a="l">1:9</Tx>
      <Tx x={526.7} y={765} a="l">1:0 {P}</Tx>
      <Tx x={559.3} y={688.3} a="l" c={TXT_GREEN}>EGFP⁺</Tx>
      <Tx x={559.3} y={703.3} a="l" c={TXT_GREEN}>{P}</Tx>
      <Tx x={559.3} y={727.7} a="l" c="#777">EGFP¯</Tx>
      <Tx x={559.3} y={742.7} a="l" c="#777">{P}</Tx>

      {/* J */}
      <Tx x={16} y={901} s={14.5} r>% {M} cells</Tx>
      <Tx x={31} y={901} s={9.5} r>(relative to cells of origin)</Tx>
      <Tx x={204} y={847.3} a="l">9:1</Tx>
      <Tx x={204} y={861.7} a="l">1:1</Tx>
      <Tx x={204} y={875.7} a="l">1:9</Tx>
      <Tx x={204} y={890} a="l">9:1</Tx>
      <Tx x={204} y={904.3} a="l">1:1</Tx>
      <Tx x={204} y={916.5} a="l">1:9</Tx>
      <Tx x={204} y={930} a="l">0:1 {M}</Tx>
      <Tx x={239.3} y={853.3} a="l" c={TXT_GREEN}>EGFP⁺</Tx>
      <Tx x={239.3} y={869.3} a="l" c={TXT_GREEN}>{P}</Tx>
      <Tx x={239.3} y={893.3} a="l" c="#777">EGFP¯</Tx>
      <Tx x={239.3} y={909.3} a="l" c="#777">{P}</Tx>
    </div>
  );
}
